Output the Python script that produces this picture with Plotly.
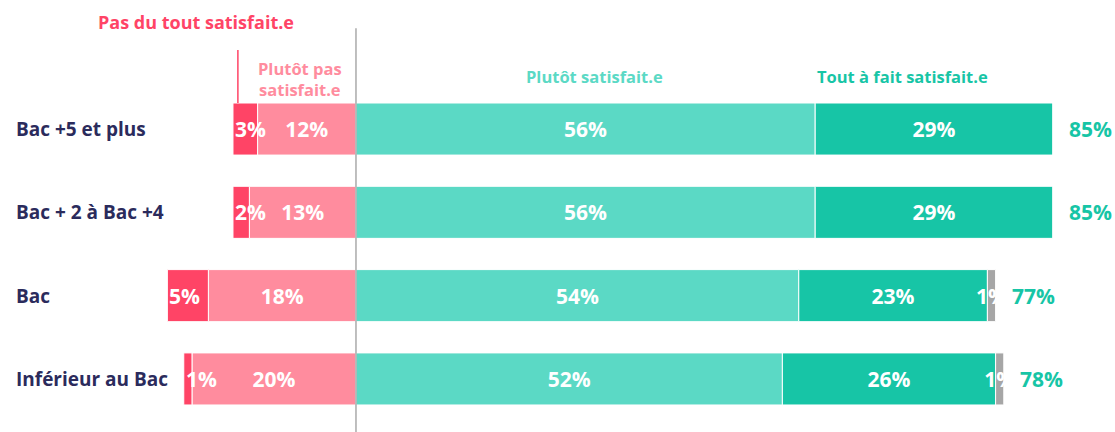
import plotly.graph_objects as go

categories = ["Bac +5 et plus", "Bac + 2 à Bac +4", "Bac", "Inférieur au Bac"]
pas_du_tout = [3, 2, 5, 1]
plutot_pas = [12, 13, 18, 20]
plutot_satisfait = [56, 56, 54, 52]
tout_a_fait = [29, 29, 23, 26]
nsp = [0, 0, 1, 1]
totals = [85, 85, 77, 78]

C_PDT = "#ff4466"
C_PP = "#ff8c9e"
C_PS = "#5bd9c5"
C_TAF = "#17c5a6"
C_NSP = "#a6a6a6"
NAVY = "#2b2b5c"
FONT = "Open Sans"
LBL = 21

ypos = list(range(len(categories)))
W = 0.625

fig = go.Figure()

def pct(vals):
    return [f"<b>{v}%</b>" if v else "" for v in vals]

common = dict(orientation="h", width=W, marker_line=dict(color="white", width=1),
              textposition="inside", insidetextanchor="middle", constraintext="none",
              textangle=0,
              textfont=dict(color="white", size=LBL, family=FONT), hoverinfo="skip")

fig.add_trace(go.Bar(y=ypos, x=[-v for v in plutot_pas], base=[0]*4,
                     marker_color=C_PP, text=pct(plutot_pas), **common))
fig.add_trace(go.Bar(y=ypos, x=[-v for v in pas_du_tout], base=[-v for v in plutot_pas],
                     marker_color=C_PDT, text=[""]*4, **common))
fig.add_trace(go.Bar(y=ypos, x=plutot_satisfait, base=[0]*4,
                     marker_color=C_PS, text=pct(plutot_satisfait), **common))
fig.add_trace(go.Bar(y=ypos, x=tout_a_fait, base=plutot_satisfait,
                     marker_color=C_TAF, text=pct(tout_a_fait), **common))
fig.add_trace(go.Bar(y=ypos, x=nsp, base=[a + b for a, b in zip(plutot_satisfait, tout_a_fait)],
                     marker_color=C_NSP, text=pct(nsp), **common))

# Pas du tout labels (left anchored at segment left edge)
for i in ypos:
    left = -(plutot_pas[i] + pas_du_tout[i])
    fig.add_annotation(x=left, y=i, text=f"<b>{pas_du_tout[i]}%</b>", showarrow=False,
                       xanchor="left", font=dict(color="white", size=LBL, family=FONT))

# Totals
for i in ypos:
    end = plutot_satisfait[i] + tout_a_fait[i] + nsp[i]
    fig.add_annotation(x=end + 4.6, y=i, text=f"<b>{totals[i]}%</b>", showarrow=False,
                       xanchor="center", font=dict(color=C_TAF, size=LBL, family=FONT))

# Category labels
for i, c in enumerate(categories):
    fig.add_annotation(x=-41.75, y=i, text=f"<b>{c}</b>", showarrow=False, xanchor="left",
                       font=dict(color=NAVY, size=19, family=FONT))

# Headers
fig.add_annotation(x=-19.45, y=-1.285, text="<b>Pas du tout satisfait.e</b>", showarrow=False,
                   font=dict(color=C_PDT, size=18, family=FONT))
fig.add_annotation(x=-6.8, y=-0.60, text="<b>Plutôt pas<br>satisfait.e</b>", showarrow=False,
                   font=dict(color=C_PP, size=16.5, family=FONT))
fig.add_annotation(x=29.1, y=-0.636, text="<b>Plutôt satisfait.e</b>", showarrow=False,
                   font=dict(color=C_PS, size=16.5, family=FONT))
fig.add_annotation(x=66.6, y=-0.636, text="<b>Tout à fait satisfait.e</b>", showarrow=False,
                   font=dict(color=C_TAF, size=16.5, family=FONT))

fig.add_shape(type="line", x0=-14.4, x1=-14.4, y0=-0.948, y1=-W / 2, line=dict(color=C_PDT, width=1.5))
fig.add_shape(type="line", x0=0, x1=0, y0=-1.21, y1=3.7, line=dict(color="#aaaaaa", width=1.5), layer="above")

fig.update_layout(
    width=1115, height=432, barmode="overlay", showlegend=False,
    margin=dict(l=0, r=0, t=0, b=0),
    plot_bgcolor="white", paper_bgcolor="white",
    xaxis=dict(range=[-43.41, 92.56], visible=False, fixedrange=True),
    yaxis=dict(range=[3.637, -1.549], visible=False, fixedrange=True),
    font=dict(family=FONT),
)

fig.write_html("out.html", config={"displayModeBar": False},
               post_script="document.body.style.margin='0px';document.body.style.overflow='hidden';")
